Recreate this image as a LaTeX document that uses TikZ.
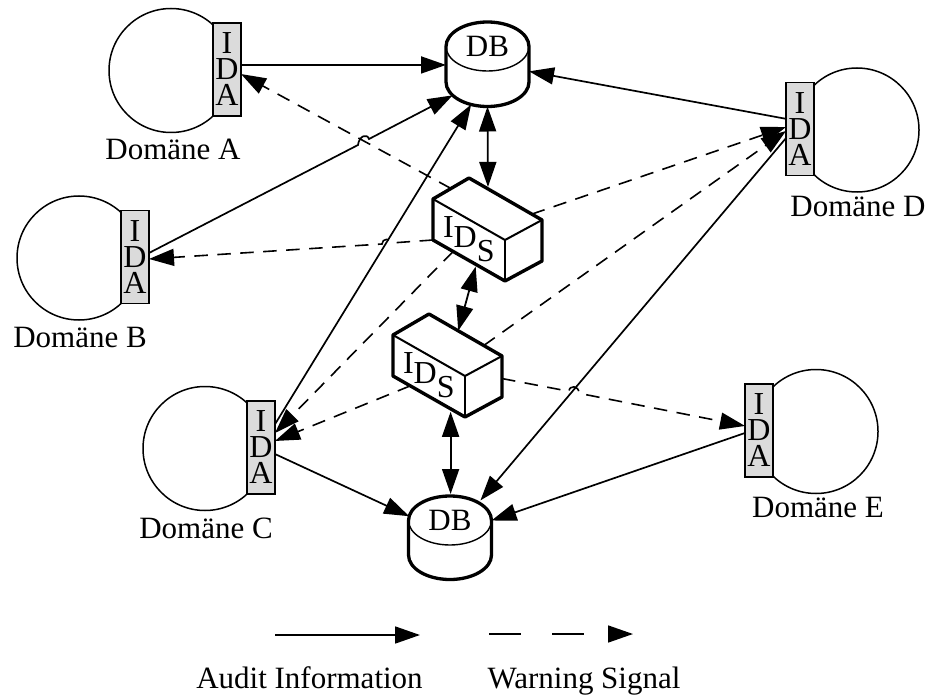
\documentclass[tikz,border=0pt]{standalone}
\usepackage{fontspec}
\setmainfont{Liberation Serif}
\usetikzlibrary{arrows.meta,calc,shapes.geometric}
\tikzset{
  headtip/.tip={Triangle[length=25pt,width=17pt]},
  every node/.style={font=\fontsize{31}{33}\selectfont, inner sep=0pt, outer sep=0pt},
  domcircle/.style={draw, circle, minimum size=124pt, line width=1.5pt},
  ida/.style={draw, fill=black!14, minimum width=28pt, minimum height=93pt, line width=1.5pt, align=center, font=\fontsize{32}{26}\selectfont},
  dbtop/.style={draw, ellipse, minimum width=83pt, minimum height=49pt, line width=1.4pt},
  dblow/.style={ellipse, minimum width=83pt, minimum height=49pt},
  dbline/.style={line width=3.3pt, line join=round},
  audit/.style={-{headtip}, line width=1.7pt},
  warn/.style={-{headtip}, line width=1.6pt, dash pattern=on 13.5pt off 9.5pt},
  twoway/.style={{headtip}-{headtip}, line width=1.8pt},
  idsbox/.pic={
    \draw[fill=white, line width=3.4pt, line join=round] (0,0) coordinate (-l) -- (36,-21) coordinate (-t) -- (109,21) coordinate (-r)
      -- (109,62) coordinate (-rb) -- (72,82) coordinate (-fb) -- (0,41) coordinate (-lb) -- cycle;
    \draw[line width=2pt] (-l) -- (72,41) coordinate (-f) -- (-r);
    \draw[line width=2pt] (-f) -- (-fb);
    \node[anchor=base west] (-txt) at (10,38) {\fontsize{32}{33}\selectfont I\raisebox{-10pt}{D}\raisebox{-24pt}{S}};
  }
}
\begin{document}
\begin{tikzpicture}[x=1pt, y=-1pt]
\useasboundingbox (0,0) rectangle (928,695);

\node (domA) at (171,70.5) [domcircle] {};
\node (domB) at (79,258) [domcircle] {};
\node (domC) at (205,448.5) [domcircle] {};
\node (domD) at (857,130) [domcircle] {};
\node (domE) at (816,431.5) [domcircle] {};

\node (idaA) at (227,69.5) [ida] {I\\D\\A};
\node (idaB) at (135,257) [ida] {I\\D\\A};
\node (idaC) at (261,447.5) [ida] {I\\D\\A};
\node (idaD) at (800,129) [ida] {I\\D\\A};
\node (idaE) at (759,430.5) [ida] {I\\D\\A};

\node (labA) at (173,159.5) [anchor=base] {Domäne A};
\node (labB) at (80,347) [anchor=base] {Domäne B};
\node (labC) at (206,538) [anchor=base] {Domäne C};
\node (labD) at (858,216) [anchor=base] {Domäne D};
\node (labE) at (818,517) [anchor=base] {Domäne E};

% data bases
\node (dbAlow) at (487.5,82) [dblow] {};
\node (dbA) at (487.5,46.5) [dbtop] {DB};
\draw[dbline] (dbA.west) arc[start angle=180, end angle=0, x radius=41.5pt, y radius=24.5pt]
  -- (dbAlow.east) arc[start angle=0, end angle=-180, x radius=41.5pt, y radius=24.5pt] -- cycle;
\node (dbBlow) at (450,555) [dblow] {};
\node (dbB) at (450,520.5) [dbtop] {DB};
\draw[dbline] (dbB.west) arc[start angle=180, end angle=0, x radius=41.5pt, y radius=24.5pt]
  -- (dbBlow.east) arc[start angle=0, end angle=-180, x radius=41.5pt, y radius=24.5pt] -- cycle;

\pic (ids1) at (433,199) {idsbox};
\pic (ids2) at (393,335) {idsbox};
\coordinate (ids2foot) at ($(ids2-lb)!.8!(ids2-fb)$);

% audit information
\draw[audit] (idaA.18) -- ($(dbA.west)!.52!(dbAlow.west)$);
\draw[audit] (idaB.16) -- (358,145) .. controls (359,136) and (367,133) .. (369,139) -- (dbAlow.201.5);
\draw[audit] (idaC.59) -- (dbAlow.234);
\draw[audit] (idaD.144.5) -- ($(dbA.east)!.7!(dbAlow.east)$);
\draw[audit, shorten >=3pt] (idaD.213) -- (dbB.32);
\draw[audit] (idaC.-25) -- (dbB.174.5);
\draw[audit] (idaE.190) -- (dbB.east);

% warning signals
\draw[warn] ($(ids1-l)!.5!(ids1-t)$) -- (idaA.-18);
\draw[warn] (ids1-lb) -- (391,243) .. controls (391,238) and (382,238) .. (382,244) -- (idaB.-8);
\draw[warn] ($(ids1-lb)!.28!(ids1-fb)$) -- (idaC.46);
\draw[warn] ($(ids1-t)!.86!(ids1-r)$) -- (idaD.172);
\draw[warn] ($(ids2-t)!.75!(ids2-r)$) -- (idaD.188);
\draw[warn] ($(ids2-lb)!.24!(ids2-fb)$) -- (idaC.25);
\draw[warn] ($(ids2-r)!.55!(ids2-rb)$) -- (569,391.3) .. controls (569,385) and (579,385) .. (579,393.3) -- (idaE.162);

\draw[twoway, shorten >=2pt] (dbAlow.south) -- ($(ids1-t)!.26!(ids1-r)$);
\draw[twoway, shorten <=2pt] ($(ids1-lb)!.6!(ids1-fb)$) -- ($(ids2-t)!.4!(ids2-r)$);
\draw[twoway, shorten <=3pt, shorten >=2pt] (ids2foot) -- (ids2foot |- dbB.north);

% legend
\coordinate (legA) at (275,635);
\coordinate (legB) at (420,635);
\coordinate (legC) at (489,634);
\coordinate (legD) at (633,634);
\draw[audit] (legA) -- (legB);
\draw[-{headtip}, line width=1.6pt, dash pattern=on 32pt off 31pt] (legC) -- (legD);
\node (legAudit) at (309.5,688) [anchor=base] {Audit Information};
\node (legWarn) at (584,688) [anchor=base] {Warning Signal};
\end{tikzpicture}
\end{document}
